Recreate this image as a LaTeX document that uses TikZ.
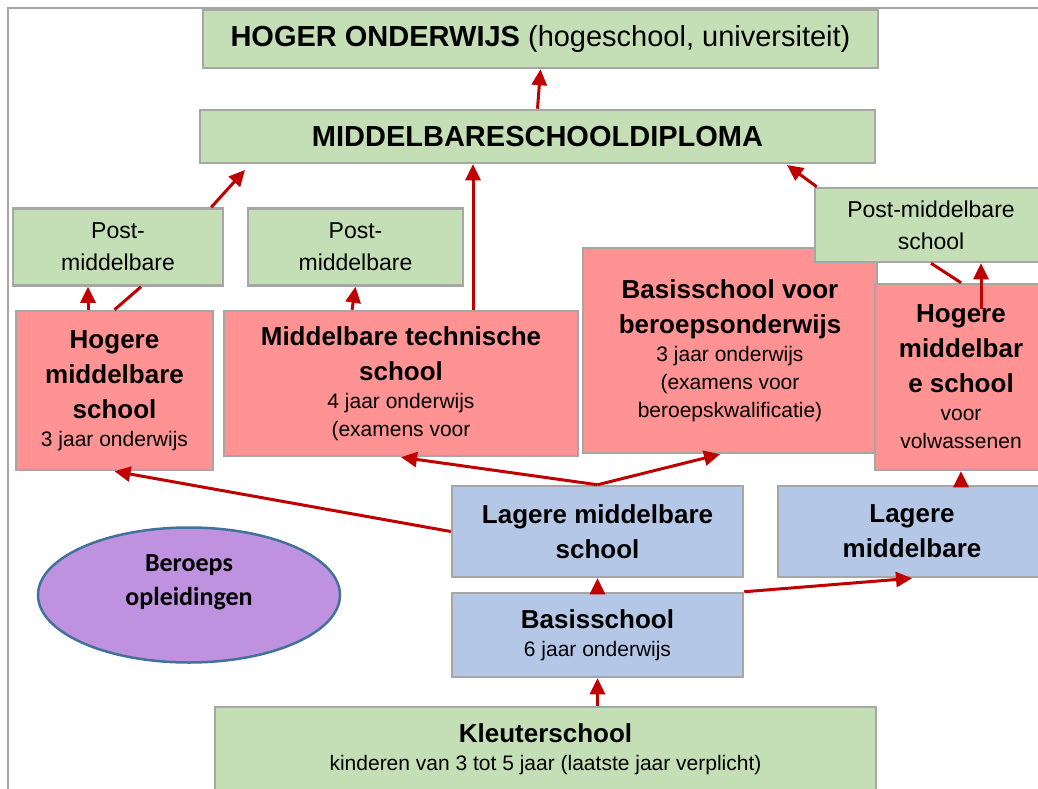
\documentclass[tikz,border=0pt]{standalone}
\usepackage{fontspec}
\setmainfont{Liberation Sans}
\newfontfamily\carlito{Carlito}
\usetikzlibrary{positioning,arrows.meta,calc,shapes.geometric}

\definecolor{boxgreen}{RGB}{196,223,181}
\definecolor{boxred}{RGB}{255,146,146}
\definecolor{boxblue}{RGB}{180,199,231}
\definecolor{boxgray}{RGB}{166,166,166}
\definecolor{arrowred}{RGB}{192,0,0}
\definecolor{ovalfill}{RGB}{190,146,223}
\definecolor{ovalline}{RGB}{65,113,156}

\newcommand{\fixspace}{\spaceskip=\fontdimen2\font\xspaceskip=\fontdimen2\font}
\newcommand{\titletxt}[1]{{\fontsize{26}{35}\selectfont\bfseries\fixspace #1\par}}
\newcommand{\subtxt}[1]{{\fontsize{21}{28}\selectfont\fixspace #1\par}}

\tikzset{
	box/.style={draw=boxgray,line width=2.5pt,rectangle,align=center,inner sep=2pt},
	greenbox/.style={box,fill=boxgreen},
	redbox/.style={box,fill=boxred},
	bluebox/.style={box,fill=boxblue},
	posttxt/.style={font=\fontsize{23}{32}\selectfont},
	link/.style={draw=arrowred,line width=3pt},
	arr/.style={link,-{Triangle[length=16pt,width=15pt]}}
}

\begin{document}
\begin{tikzpicture}[x=1pt,y=-1pt]
		\useasboundingbox (0,0) rectangle (1038,789);
		\draw[boxgray,line width=2pt] (8,800) -- (8,8) -- (1050,8);

		% top
		\node[greenbox,minimum width=675pt,minimum height=58pt,font=\fontsize{29}{34}\selectfont] (hoger) at (540.5,39)
			{{\bfseries HOGER ONDERWIJS} (hogeschool, universiteit)};
		\node[greenbox,minimum width=675pt,minimum height=53pt,font=\fontsize{29}{34}\selectfont\bfseries] (diploma) at (537.5,136.5)
			{MIDDELBARESCHOOLDIPLOMA};

		% post-middelbaar
		\node[greenbox,posttxt,minimum width=210pt,minimum height=77pt,text width=200pt] (postA) at (118,247) {Post-\\middelbare};
		\node[greenbox,posttxt,minimum width=215pt,minimum height=77pt,text width=205pt] (postB) at (355.5,247) {Post-\\middelbare};

		% secundair
		\node[redbox,minimum width=197pt,minimum height=159pt,text width=190pt] (hmsA) at (114.5,390.5)
			{\titletxt{Hogere\\middelbare\\school}\subtxt{3 jaar onderwijs}};
		\node[redbox,minimum width=354pt,minimum height=145pt,text width=345pt] (mts) at (401,383.5)
			{\titletxt{Middelbare technische\\school}\subtxt{4 jaar onderwijs\\(examens voor}};
		\node[redbox,minimum width=294pt,minimum height=205pt,text width=285pt] (bbo) at (730,350.5)
			{\titletxt{Basisschool voor\\beroepsonderwijs}\subtxt{3 jaar onderwijs\\(examens voor\\beroepskwalificatie)}\vspace{20pt}};
		\node[redbox,minimum width=172pt,minimum height=186pt,text width=165pt] (hmsV) at (961,377)
			{\titletxt{Hogere\\middelbar\\e school}\subtxt{voor\\volwassenen}};
		\node[greenbox,posttxt,minimum width=232pt,minimum height=74pt,text width=222pt] (postC) at (931,225) {Post-middelbare\\school};

		% lager
		\node[bluebox,minimum width=291pt,minimum height=91pt,text width=282pt] (lms) at (597.5,531.5)
			{\titletxt{Lagere middelbare\\school}};
		\node[bluebox,minimum width=268pt,minimum height=91pt,text width=258pt] (lmr) at (912,531.5)
			{\titletxt{Lagere\\middelbare}};
		\node[bluebox,minimum width=291pt,minimum height=84pt,text width=282pt] (basis) at (597.5,635)
			{\titletxt{Basisschool}\subtxt{6 jaar onderwijs}};
		\node[greenbox,minimum width=661pt,minimum height=84pt,text width=650pt] (kleuter) at (545.5,749)
			{\titletxt{Kleuterschool}\subtxt{kinderen van 3 tot 5 jaar (laatste jaar verplicht)}};

		\node[ellipse,draw=ovalline,line width=2.5pt,fill=ovalfill,minimum width=302pt,minimum height=135pt,
			align=center,font=\carlito\bfseries\fontsize{26}{34}\selectfont] (oval) at (189,595)
			{Beroeps\\opleidingen\\[-4pt]\mbox{}};

		% arrows
		\coordinate (dipA) at (245,170);
		\coordinate (dipC) at (787,165);
		\coordinate (mtsTop) at ([xshift=72pt]mts.north);
		\coordinate (hmsTop) at ([xshift=-26.5pt]hmsA.north);
		\coordinate (hmsVin) at ([xshift=20pt,yshift=-26pt]hmsV.north);
		\draw[arr] (diploma.north) -- (hoger.south);
		\draw[arr] ([xshift=-13pt]postA.north east) -- (dipA);
		\draw[arr] (mtsTop) -- (mtsTop |- diploma.south);
		\draw[arr] ([xshift=3pt]postC.north west) -- (dipC);
		\draw[arr] (hmsTop) -- (hmsTop |- postA.south);
		\draw[link] (hmsA.north) -- ([xshift=23pt]postA.south);
		\draw[arr] ([xshift=-49pt]mts.north) -- (postB.south);
		\draw[link] (hmsV.north) -- (postC.south);
		\draw[arr] (hmsVin) -- (hmsVin |- postC.south);
		\draw[arr] (lms.west) -- (hmsA.south);
		\draw[arr] (lms.north) -- (mts.south);
		\draw[arr] (lms.north) -- ([xshift=-10pt]bbo.south);
		\draw[arr] (basis.north) -- (lms.south);
		\draw[arr] (basis.north east) -- (lmr.south);
		\draw[arr] (hmsV.south |- lmr.north) -- (hmsV.south);
		\draw[arr] (basis.south |- kleuter.north) -- (basis.south);
\end{tikzpicture}
\end{document}
